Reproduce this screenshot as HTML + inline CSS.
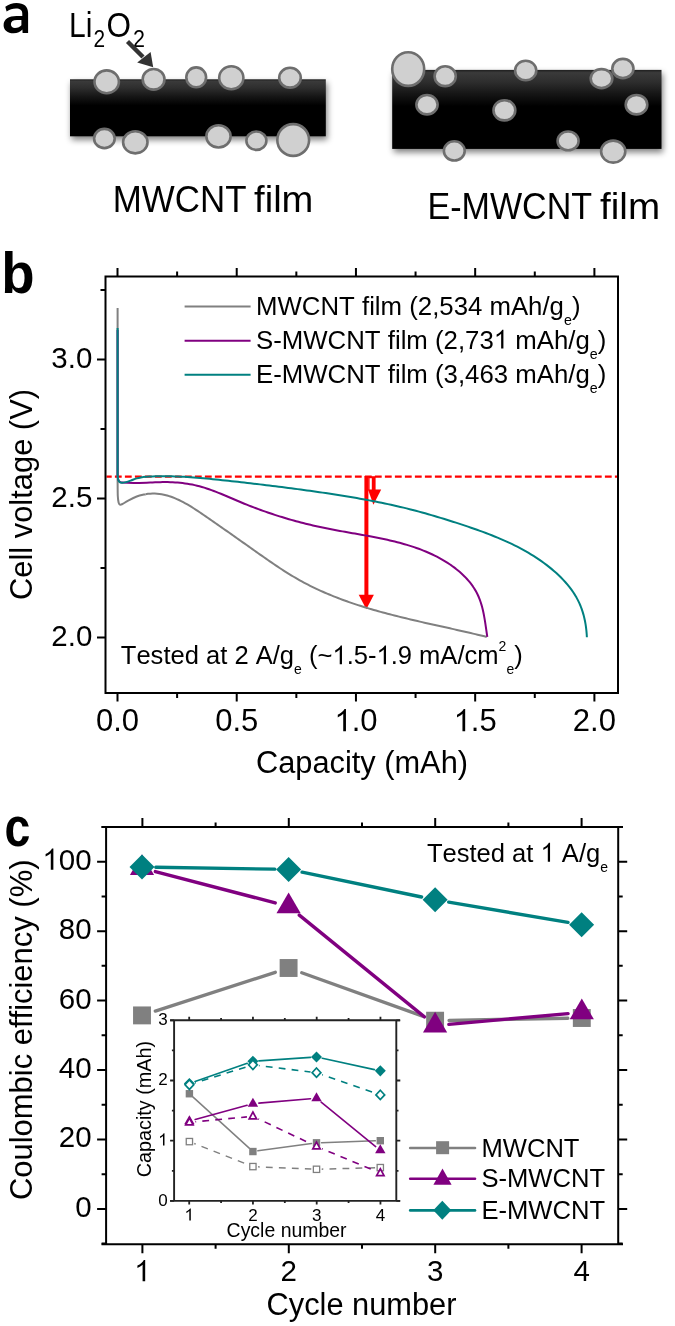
<!DOCTYPE html>
<html><head><meta charset="utf-8"><title>Figure</title>
<style>
html,body{margin:0;padding:0;background:#fff;}
svg{display:block;will-change:transform;}
text{font-family:"Liberation Sans", sans-serif;font-kerning:none;}
</style></head><body>
<svg width="675" height="1326" viewBox="0 0 675 1326">
<defs>
<linearGradient id="g1" x1="0" y1="0" x2="0" y2="1">
<stop offset="0" stop-color="#1e1e1e"/><stop offset="0.035" stop-color="#3a3a3a"/><stop offset="0.15" stop-color="#2e2e2e"/><stop offset="0.3" stop-color="#161616"/><stop offset="0.46" stop-color="#000"/><stop offset="1" stop-color="#000"/>
</linearGradient>
<linearGradient id="g2" x1="0" y1="0" x2="0" y2="1">
<stop offset="0" stop-color="#1e1e1e"/><stop offset="0.035" stop-color="#3a3a3a"/><stop offset="0.15" stop-color="#2e2e2e"/><stop offset="0.3" stop-color="#161616"/><stop offset="0.46" stop-color="#000"/><stop offset="1" stop-color="#000"/>
</linearGradient>
<filter id="blur" x="-20%" y="-20%" width="140%" height="140%"><feGaussianBlur stdDeviation="3"/></filter>
</defs>
<rect width="675" height="1326" fill="#fff"/>
<path fill-rule="evenodd" fill="#000" d="M5.3 6.8C8.5 4.4 12.5 3 16.5 3C24 3 28.1 6.5 28.1 13L28.1 32.9L22.6 32.9L22.4 29.6C20.5 31.8 17.5 33.3 13.5 33.3C7.5 33.3 3.6 30 3.6 25.2C3.6 19 9 16 16.5 16L22.3 16L22.3 13.8C22.3 10.2 20 8.6 16 8.6C12.5 8.6 9.5 9.6 6.6 11.6ZM21.4 20L17 20C13 20 10.9 21.5 10.9 24.2C10.9 26.6 12.6 28 15 28C17.8 28 20.2 26.8 21.4 25.2Z"/>
<text transform="translate(69.03,37) scale(0.8736,1)" font-size="34.4">Li</text>
<text transform="translate(93.45,46.8) scale(0.8874,1)" font-size="23.5">2</text>
<text transform="translate(106.41,37.2) scale(0.9103,1)" font-size="34.6">O</text>
<text transform="translate(132.92,46.8) scale(0.9154,1)" font-size="23.5">2</text>
<line x1="127.5" y1="41.5" x2="143" y2="57" stroke="#333" stroke-width="4.4"/>
<polygon points="137.2,62.4 150.6,52 153.2,67.2" fill="#333"/>
<rect x="71.5" y="82.8" width="255.8" height="57" fill="#000" opacity="0.5" filter="url(#blur)"/>
<rect x="70" y="79.3" width="255.8" height="57" fill="url(#g1)"/>
<ellipse cx="106.7" cy="81.8" rx="12.2" ry="11.4" fill="#d0d0d0" stroke="#6e6e6e" stroke-width="2.6"/>
<ellipse cx="153.6" cy="79.3" rx="10.9" ry="10.3" fill="#d0d0d0" stroke="#6e6e6e" stroke-width="2.6"/>
<ellipse cx="196.2" cy="77.3" rx="9.9" ry="9.9" fill="#d0d0d0" stroke="#6e6e6e" stroke-width="2.6"/>
<ellipse cx="231.3" cy="77.7" rx="12.1" ry="11.5" fill="#d0d0d0" stroke="#6e6e6e" stroke-width="2.6"/>
<ellipse cx="290" cy="77.7" rx="10.8" ry="9.9" fill="#d0d0d0" stroke="#6e6e6e" stroke-width="2.6"/>
<ellipse cx="104.4" cy="138.5" rx="10.3" ry="9.6" fill="#d0d0d0" stroke="#6e6e6e" stroke-width="2.6"/>
<ellipse cx="135.3" cy="142.3" rx="12.2" ry="11.1" fill="#d0d0d0" stroke="#6e6e6e" stroke-width="2.6"/>
<ellipse cx="218.5" cy="136.4" rx="12.1" ry="11.1" fill="#d0d0d0" stroke="#6e6e6e" stroke-width="2.6"/>
<ellipse cx="256.4" cy="140.7" rx="10" ry="9.2" fill="#d0d0d0" stroke="#6e6e6e" stroke-width="2.6"/>
<ellipse cx="293.2" cy="140" rx="15.9" ry="15.9" fill="#d0d0d0" stroke="#6e6e6e" stroke-width="2.6"/>
<rect x="393.7" y="73.4" width="269.3" height="79" fill="#000" opacity="0.5" filter="url(#blur)"/>
<rect x="392.2" y="69.9" width="269.3" height="79" fill="url(#g2)"/>
<ellipse cx="408.2" cy="69.1" rx="16" ry="16.8" fill="#d0d0d0" stroke="#6e6e6e" stroke-width="2.6"/>
<ellipse cx="445.2" cy="76.2" rx="10.6" ry="9.9" fill="#d0d0d0" stroke="#6e6e6e" stroke-width="2.6"/>
<ellipse cx="427" cy="104.7" rx="10.6" ry="9.7" fill="#d0d0d0" stroke="#6e6e6e" stroke-width="2.6"/>
<ellipse cx="504.4" cy="110.3" rx="10.9" ry="10.1" fill="#d0d0d0" stroke="#6e6e6e" stroke-width="2.6"/>
<ellipse cx="454.3" cy="150.9" rx="10.4" ry="9.6" fill="#d0d0d0" stroke="#6e6e6e" stroke-width="2.6"/>
<ellipse cx="525.7" cy="70.5" rx="10.6" ry="9.7" fill="#d0d0d0" stroke="#6e6e6e" stroke-width="2.6"/>
<ellipse cx="601.5" cy="78.6" rx="10.8" ry="9.5" fill="#d0d0d0" stroke="#6e6e6e" stroke-width="2.6"/>
<ellipse cx="622.9" cy="68.5" rx="10.6" ry="9.6" fill="#d0d0d0" stroke="#6e6e6e" stroke-width="2.6"/>
<ellipse cx="636.5" cy="104.7" rx="10.8" ry="9.7" fill="#d0d0d0" stroke="#6e6e6e" stroke-width="2.6"/>
<ellipse cx="568.1" cy="140.9" rx="10.5" ry="9.4" fill="#d0d0d0" stroke="#6e6e6e" stroke-width="2.6"/>
<ellipse cx="613.2" cy="151.6" rx="12.1" ry="11" fill="#d0d0d0" stroke="#6e6e6e" stroke-width="2.6"/>
<text transform="translate(112.74,211.9) scale(0.9643,1)" font-size="36.2">MWCNT</text>
<text transform="translate(254.06,211.9) scale(1.0543,1)" font-size="36.2">film</text>
<text transform="translate(427.5,219.4) scale(0.9414,1)" font-size="36.2">E-MWCNT</text>
<text transform="translate(600.05,219.4) scale(1.0674,1)" font-size="36.2">film</text>
<text transform="translate(1.2,293.4) scale(0.95,1)" font-size="57.5" font-weight="bold">b</text>
<path d="M117.5 693V701.5 M117.5 276.5V268 M177.11 693V698 M177.11 276.5V271.5 M236.72 693V701.5 M236.72 276.5V268 M296.34 693V698 M296.34 276.5V271.5 M355.95 693V701.5 M355.95 276.5V268 M415.56 693V698 M415.56 276.5V271.5 M475.17 693V701.5 M475.17 276.5V268 M534.79 693V698 M534.79 276.5V271.5 M594.4 693V701.5 M594.4 276.5V268 M105.5 637.5H97 M105.5 568H100.5 M105.5 498.5H97 M105.5 429H100.5 M105.5 359.5H97 M105.5 290H100.5" stroke="#000" stroke-width="2" fill="none"/>
<line x1="106.5" y1="476.6" x2="617" y2="476.6" stroke="#ff0000" stroke-width="2.4" stroke-dasharray="6.8 3.2" stroke-dashoffset="1.6"/>
<rect x="364.4" y="476" width="4" height="120" fill="#ff0000"/>
<polygon points="358.7,594.8 373.9,594.8 366.3,609.3" fill="#ff0000"/>
<path d="M368.2 476.2H375.6V490.5H368.2Z" fill="#ff0000"/>
<rect x="369.6" y="478.2" width="2.2" height="12" fill="#fff"/>
<polygon points="368,489.6 381.2,489.6 373.4,504.8" fill="#ff0000"/>
<path d="M117.6 308L117.6 480" fill="none" stroke="#808080" stroke-width="2"/>
<path d="M117.6 480 C117.63 482.67 117.63 492.25 117.8 496 C117.97 499.75 118.27 501.07 118.6 502.5 C118.93 503.93 119.15 504.35 119.8 504.6 C120.45 504.85 121.17 504.63 122.5 504 C123.83 503.37 125.43 502.05 127.8 500.8 C130.17 499.55 133.73 497.6 136.7 496.5 C139.67 495.4 144.12 494.58 145.6 494.2" fill="none" stroke="#808080" stroke-width="2" stroke-linejoin="round"/>
<polyline points="145.62,494.19 147.95,493.85 150.26,493.64 152.56,493.54 154.84,493.56 157.1,493.69 159.35,493.93 161.59,494.26 163.81,494.7 166.01,495.22 168.21,495.83 170.39,496.52 172.55,497.29 174.7,498.13 176.85,499.05 178.97,500.02 181.09,501.05 183.2,502.14 185.29,503.28 187.38,504.46 189.45,505.69 191.51,506.95 193.57,508.24 195.61,509.55 197.65,510.89 199.67,512.25 201.69,513.62 203.7,514.99 205.71,516.37 207.7,517.75 209.69,519.13 211.67,520.5 213.65,521.87 215.62,523.24 217.59,524.61 219.55,525.98 221.5,527.34 223.45,528.71 225.4,530.07 227.34,531.43 229.28,532.79 231.22,534.15 233.15,535.51 235.08,536.87 237.01,538.23 238.94,539.59 240.87,540.95 242.79,542.31 244.72,543.67 246.64,545.03 248.56,546.39 250.49,547.75 252.41,549.11 254.34,550.48 256.27,551.84 258.2,553.2 260.13,554.57 262.06,555.93 264,557.29 265.94,558.65 267.88,560 269.83,561.35 271.78,562.69 273.74,564.02 275.7,565.34 277.67,566.66 279.64,567.97 281.62,569.26 283.6,570.54 285.59,571.81 287.59,573.07 289.6,574.31 291.61,575.54 293.63,576.75 295.66,577.94 297.7,579.12 299.74,580.28 301.8,581.41 303.86,582.53 305.94,583.63 308.02,584.71 310.11,585.77 312.21,586.81 314.32,587.84 316.43,588.85 318.56,589.84 320.69,590.81 322.83,591.77 324.98,592.71 327.13,593.63 329.29,594.54 331.46,595.44 333.64,596.32 335.82,597.18 338.01,598.03 340.2,598.87 342.4,599.69 344.61,600.5 346.82,601.3 349.04,602.08 351.26,602.85 353.49,603.61 355.73,604.35 357.97,605.09 360.21,605.81 362.46,606.52 364.72,607.22 366.98,607.91 369.24,608.59 371.51,609.26 373.78,609.92 376.06,610.57 378.33,611.22 380.62,611.85 382.9,612.48 385.19,613.09 387.48,613.7 389.78,614.3 392.08,614.9 394.38,615.49 396.68,616.07 398.98,616.65 401.29,617.22 403.6,617.78 405.91,618.34 408.22,618.89 410.54,619.44 412.85,619.99 415.17,620.53 417.49,621.06 419.81,621.6 422.12,622.13 424.44,622.65 426.76,623.18 429.08,623.7 431.4,624.22 433.73,624.74 436.05,625.26 438.36,625.77 440.68,626.29 443,626.8 445.32,627.32 447.64,627.83 449.95,628.35 452.26,628.86 454.58,629.38 456.89,629.9 459.2,630.42 461.5,630.94 463.81,631.47 466.11,632 468.41,632.53 470.71,633.06 473,633.6 475.29,634.14 477.58,634.68 479.87,635.23 482.15,635.78 484.43,636.34 486.7,636.91" fill="none" stroke="#808080" stroke-width="2" stroke-linejoin="round"/>
<path d="M117.6 330L117.6 476" fill="none" stroke="#800080" stroke-width="2"/>
<path d="M117.6 476 C117.7 476.58 117.88 478.58 118.2 479.5 C118.52 480.42 118.87 481.02 119.5 481.5 C120.13 481.98 119.63 482.17 122 482.4 C124.37 482.63 129.03 482.87 133.7 482.9 C138.37 482.93 147.28 482.65 150 482.6" fill="none" stroke="#800080" stroke-width="2" stroke-linejoin="round"/>
<polyline points="150,482.6 152.56,482.45 155.11,482.32 157.64,482.22 160.17,482.15 162.69,482.11 165.2,482.1 167.7,482.12 170.19,482.18 172.67,482.28 175.14,482.42 177.61,482.6 180.07,482.82 182.52,483.08 184.96,483.39 187.4,483.74 189.82,484.15 192.25,484.6 194.66,485.11 197.07,485.66 199.48,486.28 201.87,486.94 204.27,487.66 206.66,488.43 209.04,489.24 211.42,490.09 213.79,490.97 216.16,491.88 218.53,492.82 220.89,493.78 223.25,494.76 225.6,495.75 227.96,496.75 230.31,497.76 232.66,498.77 235,499.77 237.35,500.77 239.69,501.76 242.03,502.74 244.37,503.7 246.71,504.64 249.05,505.57 251.38,506.48 253.72,507.38 256.06,508.27 258.4,509.14 260.74,509.99 263.08,510.83 265.42,511.66 267.76,512.47 270.1,513.27 272.45,514.06 274.8,514.83 277.15,515.59 279.5,516.33 281.86,517.06 284.22,517.78 286.58,518.49 288.94,519.18 291.31,519.86 293.69,520.52 296.06,521.18 298.45,521.82 300.83,522.44 303.23,523.06 305.62,523.66 308.03,524.26 310.44,524.84 312.85,525.41 315.27,525.96 317.7,526.51 320.14,527.04 322.58,527.56 325.03,528.07 327.49,528.57 329.95,529.06 332.42,529.54 334.9,530.01 337.39,530.48 339.88,530.93 342.37,531.38 344.87,531.83 347.37,532.27 349.88,532.71 352.39,533.15 354.9,533.59 357.41,534.04 359.92,534.48 362.43,534.93 364.94,535.38 367.45,535.84 369.96,536.3 372.46,536.78 374.96,537.26 377.46,537.75 379.95,538.26 382.44,538.77 384.92,539.31 387.4,539.85 389.87,540.41 392.33,540.99 394.79,541.59 397.23,542.2 399.67,542.84 402.1,543.5 404.51,544.18 406.92,544.88 409.31,545.61 411.69,546.37 414.06,547.15 416.41,547.96 418.75,548.8 421.08,549.67 423.39,550.57 425.68,551.51 427.96,552.48 430.22,553.48 432.46,554.52 434.68,555.6 436.89,556.71 439.07,557.87 441.24,559.06 443.38,560.3 445.5,561.58 447.6,562.91 449.68,564.28 451.73,565.69 453.75,567.15 455.74,568.66 457.69,570.22 459.6,571.82 461.46,573.47 463.28,575.18 465.04,576.93 466.75,578.73 468.39,580.58 469.97,582.48 471.47,584.44 472.91,586.44 474.27,588.5 475.54,590.61 476.74,592.77 477.84,594.99 478.85,597.27 479.77,599.59 480.6,601.96 481.36,604.37 482.05,606.81 482.68,609.28 483.24,611.78 483.76,614.29 484.24,616.82 484.68,619.35 485.09,621.88 485.47,624.41 485.84,626.93 486.21,629.44 486.56,631.92 486.92,634.38 487.3,636.8" fill="none" stroke="#800080" stroke-width="2" stroke-linejoin="round"/>
<path d="M117.6 328L117.6 474" fill="none" stroke="#008080" stroke-width="2"/>
<path d="M117.6 474 C117.68 474.83 117.82 477.7 118.1 479 C118.38 480.3 118.67 481.17 119.3 481.8 C119.93 482.43 120.78 482.75 121.9 482.8 C123.02 482.85 124.53 482.47 126 482.1 C127.47 481.73 128.92 481.22 130.7 480.6 C132.48 479.98 134.65 479 136.7 478.4 C138.75 477.8 141.95 477.23 143 477" fill="none" stroke="#008080" stroke-width="2" stroke-linejoin="round"/>
<polyline points="143,477 146.18,476.77 149.36,476.59 152.55,476.45 155.73,476.34 158.9,476.28 162.08,476.24 165.26,476.25 168.43,476.28 171.6,476.34 174.77,476.43 177.95,476.55 181.11,476.7 184.28,476.86 187.45,477.05 190.61,477.27 193.78,477.5 196.94,477.74 200.1,478.01 203.26,478.28 206.42,478.57 209.58,478.87 212.73,479.18 215.89,479.5 219.04,479.83 222.19,480.16 225.34,480.49 228.5,480.83 231.64,481.17 234.79,481.51 237.94,481.86 241.09,482.21 244.23,482.56 247.37,482.92 250.52,483.28 253.66,483.64 256.8,484.01 259.94,484.38 263.08,484.76 266.21,485.14 269.35,485.52 272.49,485.9 275.62,486.29 278.75,486.69 281.89,487.08 285.02,487.48 288.15,487.89 291.28,488.3 294.41,488.71 297.54,489.12 300.66,489.54 303.79,489.97 306.91,490.39 310.04,490.83 313.16,491.27 316.29,491.71 319.41,492.16 322.53,492.62 325.65,493.08 328.77,493.55 331.89,494.02 335.01,494.51 338.13,495 341.24,495.49 344.36,496 347.47,496.51 350.59,497.04 353.7,497.57 356.82,498.11 359.93,498.66 363.04,499.22 366.15,499.79 369.26,500.37 372.37,500.96 375.48,501.57 378.59,502.18 381.7,502.81 384.81,503.46 387.92,504.12 391.02,504.79 394.13,505.48 397.24,506.19 400.34,506.91 403.45,507.65 406.55,508.4 409.66,509.18 412.76,509.97 415.86,510.79 418.97,511.62 422.07,512.47 425.16,513.33 428.26,514.21 431.35,515.11 434.44,516.01 437.52,516.93 440.6,517.87 443.68,518.81 446.74,519.76 449.8,520.72 452.86,521.69 455.91,522.67 458.95,523.65 461.98,524.64 465,525.65 468.01,526.66 471.02,527.68 474.01,528.72 476.99,529.78 479.96,530.84 482.92,531.93 485.86,533.03 488.8,534.15 491.71,535.29 494.62,536.46 497.51,537.64 500.38,538.85 503.24,540.08 506.09,541.35 508.91,542.64 511.72,543.96 514.52,545.32 517.29,546.71 520.05,548.14 522.78,549.61 525.5,551.12 528.2,552.67 530.87,554.27 533.53,555.91 536.16,557.6 538.77,559.35 541.36,561.14 543.92,562.99 546.46,564.9 548.98,566.86 551.47,568.88 553.92,570.96 556.33,573.1 558.7,575.3 561.01,577.55 563.25,579.87 565.42,582.23 567.51,584.66 569.52,587.14 571.43,589.67 573.24,592.26 574.95,594.9 576.53,597.6 578,600.35 579.34,603.15 580.56,606 581.66,608.91 582.65,611.86 583.53,614.87 584.31,617.93 584.98,621.04 585.55,624.19 586.02,627.4 586.4,630.65 586.69,633.96 586.89,637.31" fill="none" stroke="#008080" stroke-width="2" stroke-linejoin="round"/>
<rect x="105.5" y="276.5" width="512.5" height="416.5" fill="none" stroke="#000" stroke-width="2"/>
<g transform="translate(51.29,367.5) scale(1.0000,1)" fill="#000"><text x="0" y="0" font-size="29.5">3.0</text></g>
<g transform="translate(51.29,506.5) scale(1.0000,1)" fill="#000"><text x="0" y="0" font-size="29.5">2.5</text></g>
<g transform="translate(51.29,645.5) scale(1.0000,1)" fill="#000"><text x="0" y="0" font-size="29.5">2.0</text></g>
<g transform="translate(95.95,731.2) scale(1.0000,1)" fill="#000"><text x="0" y="0" font-size="31">0.0</text></g>
<g transform="translate(215.18,731.2) scale(1.0000,1)" fill="#000"><text x="0" y="0" font-size="31">0.5</text></g>
<g transform="translate(334.4,731.2) scale(1.0000,1)" fill="#000"><path d="M763 0H583V1147C530 1096 466 1046 390 1000C314 954 255 925 223 912V1086C328 1135 420 1195 500 1266C580 1337 636 1404 668 1466H763Z" transform="translate(0,0) scale(0.015137,-0.015137)"/><text x="17.24" y="0" font-size="31">.0</text></g>
<g transform="translate(453.63,731.2) scale(1.0000,1)" fill="#000"><path d="M763 0H583V1147C530 1096 466 1046 390 1000C314 954 255 925 223 912V1086C328 1135 420 1195 500 1266C580 1337 636 1404 668 1466H763Z" transform="translate(0,0) scale(0.015137,-0.015137)"/><text x="17.24" y="0" font-size="31">.5</text></g>
<g transform="translate(572.85,731.2) scale(1.0000,1)" fill="#000"><text x="0" y="0" font-size="31">2.0</text></g>
<text transform="translate(32.3,494.5) rotate(-90)" font-size="30.6" text-anchor="middle" textLength="211" lengthAdjust="spacingAndGlyphs">Cell voltage (V)</text>
<text x="362" y="772.7" font-size="30.6" text-anchor="middle" font-weight="normal" textLength="212" lengthAdjust="spacingAndGlyphs">Capacity (mAh)</text>
<line x1="184.6" y1="306.6" x2="250.6" y2="306.6" stroke="#808080" stroke-width="2"/>
<line x1="184.6" y1="340.8" x2="250.6" y2="340.8" stroke="#800080" stroke-width="2"/>
<line x1="184.6" y1="374.7" x2="250.6" y2="374.7" stroke="#008080" stroke-width="2"/>
<g transform="translate(256.05,314.9) scale(0.9840,1)" fill="#000"><text x="0" y="0" font-size="26.2">MWCNT film (2,534 mAh/g</text><text x="312.99" y="10" font-size="14.5">e</text><text x="321.06" y="0" font-size="26.2">)</text></g>
<g transform="translate(256.05,348.5) scale(0.9840,1)" fill="#000"><text x="0" y="0" font-size="26.2">S-MWCNT film (2,73</text><path d="M763 0H583V1147C530 1096 466 1046 390 1000C314 954 255 925 223 912V1086C328 1135 420 1195 500 1266C580 1337 636 1404 668 1466H763Z" transform="translate(241.62,0) scale(0.012793,-0.012793)"/><text x="263.47" y="0" font-size="26.2">mAh/g</text><text x="339.19" y="10" font-size="14.5">e</text><text x="347.26" y="0" font-size="26.2">)</text></g>
<g transform="translate(256.05,382.9) scale(0.9840,1)" fill="#000"><text x="0" y="0" font-size="26.2">E-MWCNT film (3,463 mAh/g</text><text x="339.19" y="10" font-size="14.5">e</text><text x="347.26" y="0" font-size="26.2">)</text></g>
<g transform="translate(120.8,664.3) scale(0.9680,1)" fill="#000"><text x="0" y="0" font-size="26.4">Tested at 2 A/g</text><text x="179.04" y="10" font-size="14.5">e</text><text x="194.44" y="0" font-size="26.4">(~</text><path d="M763 0H583V1147C530 1096 466 1046 390 1000C314 954 255 925 223 912V1086C328 1135 420 1195 500 1266C580 1337 636 1404 668 1466H763Z" transform="translate(218.65,0) scale(0.012891,-0.012891)"/><text x="233.33" y="0" font-size="26.4">.5-</text><path d="M763 0H583V1147C530 1096 466 1046 390 1000C314 954 255 925 223 912V1086C328 1135 420 1195 500 1266C580 1337 636 1404 668 1466H763Z" transform="translate(264.14,0) scale(0.012891,-0.012891)"/><text x="278.82" y="0" font-size="26.4">.9 mA/cm</text><text x="390.3" y="-13.6" font-size="14.5">2</text><text x="398.36" y="10" font-size="14.5">e</text><text x="406.43" y="0" font-size="26.4">)</text></g>
<text transform="translate(4.6,846.3) scale(0.83,1)" font-size="56" font-weight="bold">c</text>
<path d="M142.4 1244.3V1253.3 M142.4 827V818 M215.6 1244.3V1248.8 M215.6 827V822.5 M288.8 1244.3V1253.3 M288.8 827V818 M362 1244.3V1248.8 M362 827V822.5 M435.2 1244.3V1253.3 M435.2 827V818 M508.4 1244.3V1248.8 M508.4 827V822.5 M581.6 1244.3V1253.3 M581.6 827V818 M106.1 1243.62H101.6 M618.2 1243.62H622.7 M106.1 1208.9H97.1 M618.2 1208.9H627.2 M106.1 1174.18H101.6 M618.2 1174.18H622.7 M106.1 1139.46H97.1 M618.2 1139.46H627.2 M106.1 1104.74H101.6 M618.2 1104.74H622.7 M106.1 1070.02H97.1 M618.2 1070.02H627.2 M106.1 1035.3H101.6 M618.2 1035.3H622.7 M106.1 1000.58H97.1 M618.2 1000.58H627.2 M106.1 965.86H101.6 M618.2 965.86H622.7 M106.1 931.14H97.1 M618.2 931.14H627.2 M106.1 896.42H101.6 M618.2 896.42H622.7 M106.1 861.7H97.1 M618.2 861.7H627.2 M106.1 826.98H101.6 M618.2 826.98H622.7" stroke="#000" stroke-width="2" fill="none"/>
<path d="M155.32 1011.09L275.28 972.31 M301.77 972.74L421.93 1015.96 M449.1 1020.44L567.8 1018.26" stroke="#808080" stroke-width="3.4" fill="none" stroke-linecap="round"/>
<rect x="133.05" y="1006.45" width="17.9" height="17.9" fill="#808080"/>
<rect x="279.65" y="959.05" width="17.9" height="17.9" fill="#808080"/>
<rect x="426.15" y="1011.75" width="17.9" height="17.9" fill="#808080"/>
<rect x="572.85" y="1009.05" width="17.9" height="17.9" fill="#808080"/>
<path d="M155.35 871.59L275.25 902.91 M299.3 915.11L424.4 1016.89 M448.84 1024.36L568.06 1013.64" stroke="#800080" stroke-width="3.4" fill="none" stroke-linecap="round"/>
<polygon points="142,854.23 154.1,875.03 129.9,875.03" fill="#800080"/>
<polygon points="288.6,892.53 300.7,913.33 276.5,913.33" fill="#800080"/>
<polygon points="435.1,1011.73 447.2,1032.53 423,1032.53" fill="#800080"/>
<polygon points="581.8,998.53 593.9,1019.33 569.7,1019.33" fill="#800080"/>
<path d="M155.8 867.23L274.8 869.17 M302.11 872.2L421.59 897 M448.7 902.11L568 922.39" stroke="#008080" stroke-width="3.4" fill="none" stroke-linecap="round"/>
<polygon points="142,854.5 154.5,867 142,879.5 129.5,867" fill="#008080"/>
<polygon points="288.6,856.9 301.1,869.4 288.6,881.9 276.1,869.4" fill="#008080"/>
<polygon points="435.1,887.3 447.6,899.8 435.1,912.3 422.6,899.8" fill="#008080"/>
<polygon points="581.6,912.2 594.1,924.7 581.6,937.2 569.1,924.7" fill="#008080"/>
<path d="M101.5 827H623 M101.5 1244.3H623 M106.1 827V1244.3 M618.2 827V1244.3" stroke="#000" stroke-width="2" fill="none"/>
<g transform="translate(42.38,869.7) scale(1.0000,1)" fill="#000"><path d="M763 0H583V1147C530 1096 466 1046 390 1000C314 954 255 925 223 912V1086C328 1135 420 1195 500 1266C580 1337 636 1404 668 1466H763Z" transform="translate(0,0) scale(0.014404,-0.014404)"/><text x="16.41" y="0" font-size="29.5">00</text></g>
<g transform="translate(58.79,939.14) scale(1.0000,1)" fill="#000"><text x="0" y="0" font-size="29.5">80</text></g>
<g transform="translate(58.79,1008.58) scale(1.0000,1)" fill="#000"><text x="0" y="0" font-size="29.5">60</text></g>
<g transform="translate(58.79,1078.02) scale(1.0000,1)" fill="#000"><text x="0" y="0" font-size="29.5">40</text></g>
<g transform="translate(58.79,1147.46) scale(1.0000,1)" fill="#000"><text x="0" y="0" font-size="29.5">20</text></g>
<g transform="translate(75.19,1216.9) scale(1.0000,1)" fill="#000"><text x="0" y="0" font-size="29.5">0</text></g>
<g transform="translate(134.2,1281.2) scale(1.0000,1)" fill="#000"><path d="M763 0H583V1147C530 1096 466 1046 390 1000C314 954 255 925 223 912V1086C328 1135 420 1195 500 1266C580 1337 636 1404 668 1466H763Z" transform="translate(0,0) scale(0.014404,-0.014404)"/></g>
<g transform="translate(280.6,1281.2) scale(1.0000,1)" fill="#000"><text x="0" y="0" font-size="29.5">2</text></g>
<g transform="translate(427,1281.2) scale(1.0000,1)" fill="#000"><text x="0" y="0" font-size="29.5">3</text></g>
<g transform="translate(573.4,1281.2) scale(1.0000,1)" fill="#000"><text x="0" y="0" font-size="29.5">4</text></g>
<text transform="translate(32.3,1029.8) rotate(-90)" font-size="30.6" text-anchor="middle" textLength="340.5" lengthAdjust="spacingAndGlyphs">Coulombic efficiency (%)</text>
<text x="361.5" y="1315.4" font-size="30.6" text-anchor="middle" font-weight="normal" textLength="190" lengthAdjust="spacingAndGlyphs">Cycle number</text>
<g transform="translate(426.9,861.7) scale(0.9680,1)" fill="#000"><text x="0" y="0" font-size="26.4">Tested at</text><path d="M763 0H583V1147C530 1096 466 1046 390 1000C314 954 255 925 223 912V1086C328 1135 420 1195 500 1266C580 1337 636 1404 668 1466H763Z" transform="translate(117.39,0) scale(0.012891,-0.012891)"/><text x="139.41" y="0" font-size="26.4">A/g</text><text x="179.04" y="9.8" font-size="14.5">e</text></g>
<line x1="410.2" y1="1148" x2="475" y2="1148" stroke="#808080" stroke-width="2.6" stroke-linecap="round"/>
<line x1="410.2" y1="1178.8" x2="475" y2="1178.8" stroke="#800080" stroke-width="2.6" stroke-linecap="round"/>
<line x1="410.2" y1="1210.4" x2="475" y2="1210.4" stroke="#008080" stroke-width="2.6" stroke-linecap="round"/>
<rect x="436.1" y="1141.2" width="13" height="13" fill="#808080"/>
<polygon points="442.5,1168.53 451.6,1184.83 433.4,1184.83" fill="#800080"/>
<polygon points="442.3,1200.7 451.3,1210.2 442.3,1219.7 433.3,1210.2" fill="#008080"/>
<g transform="translate(481.4,1156.5) scale(0.9700,1)" fill="#000"><text x="0" y="0" font-size="26.4">MWCNT</text></g>
<g transform="translate(481.4,1187.4) scale(0.9700,1)" fill="#000"><text x="0" y="0" font-size="26.4">S-MWCNT</text></g>
<g transform="translate(481.4,1218.9) scale(0.9700,1)" fill="#000"><text x="0" y="0" font-size="26.4">E-MWCNT</text></g>
<rect x="174.1" y="1020.3" width="222.2" height="180.6" fill="#fff"/>
<path d="M189.2 1200.9V1204.4 M189.2 1020.3V1016.8 M221.07 1200.9V1203.1 M221.07 1020.3V1018.1 M252.95 1200.9V1204.4 M252.95 1020.3V1016.8 M284.82 1200.9V1203.1 M284.82 1020.3V1018.1 M316.7 1200.9V1204.4 M316.7 1020.3V1016.8 M348.57 1200.9V1203.1 M348.57 1020.3V1018.1 M380.45 1200.9V1204.4 M380.45 1020.3V1016.8 M174.1 1200.9H170.1 M396.3 1200.9H400.3 M174.1 1170.8H171.9 M396.3 1170.8H398.5 M174.1 1140.7H170.1 M396.3 1140.7H400.3 M174.1 1110.6H171.9 M396.3 1110.6H398.5 M174.1 1080.5H170.1 M396.3 1080.5H400.3 M174.1 1050.4H171.9 M396.3 1050.4H398.5 M174.1 1020.3H170.1 M396.3 1020.3H400.3" stroke="#222" stroke-width="1.8" fill="none"/>
<path d="M194.24 1143.51L248.06 1164.68 M258.1 1166.81L311.3 1169.07 M321.7 1169.16L375.1 1167.75" stroke="#808080" stroke-width="1.5" fill="none" stroke-dasharray="6.8 6.2" stroke-dashoffset="5.2" stroke-linecap="butt"/>
<path d="M193.1 1097.11L249.2 1148.17 M257.85 1150.86L311.55 1143.49 M321.5 1142.64L375.3 1140.87" stroke="#808080" stroke-width="1.5" fill="none" stroke-linecap="round"/>
<rect x="185.7" y="1090.04" width="7.4" height="7.4" fill="#808080"/>
<rect x="249.2" y="1147.84" width="7.4" height="7.4" fill="#808080"/>
<rect x="312.8" y="1139.11" width="7.4" height="7.4" fill="#808080"/>
<rect x="376.6" y="1137" width="7.4" height="7.4" fill="#808080"/>
<rect x="186.25" y="1138.45" width="6.3" height="6.3" fill="#fff" stroke="#808080" stroke-width="1.3"/>
<rect x="249.75" y="1163.44" width="6.3" height="6.3" fill="#fff" stroke="#808080" stroke-width="1.3"/>
<rect x="313.35" y="1166.15" width="6.3" height="6.3" fill="#fff" stroke="#808080" stroke-width="1.3"/>
<rect x="377.15" y="1164.46" width="6.3" height="6.3" fill="#fff" stroke="#808080" stroke-width="1.3"/>
<path d="M195.37 1121.77L246.93 1116.89 M258.32 1118.89L311.08 1143.85 M322.04 1148.73L374.76 1170.77" stroke="#800080" stroke-width="1.6" fill="none" stroke-dasharray="6.8 6.2" stroke-dashoffset="6" stroke-linecap="butt"/>
<path d="M195.19 1119.54L247.11 1105.27 M258.88 1103.17L310.52 1098.77 M321.15 1102.05L375.65 1146.54" stroke="#800080" stroke-width="1.6" fill="none" stroke-linecap="round"/>
<polygon points="189.4,1115.13 194.6,1124.13 184.2,1124.13" fill="#800080"/>
<polygon points="252.9,1097.68 258.1,1106.68 247.7,1106.68" fill="#800080"/>
<polygon points="316.5,1092.26 321.7,1101.26 311.3,1101.26" fill="#800080"/>
<polygon points="380.3,1144.33 385.5,1153.33 375.1,1153.33" fill="#800080"/>
<polygon points="189.4,1117.99 193.11,1124.82 185.69,1124.82" fill="#fff" stroke="#800080" stroke-width="1.7" stroke-linejoin="miter"/>
<polygon points="252.9,1111.97 256.61,1118.8 249.19,1118.8" fill="#fff" stroke="#800080" stroke-width="1.7" stroke-linejoin="miter"/>
<polygon points="316.5,1142.07 320.21,1148.9 312.79,1148.9" fill="#fff" stroke="#800080" stroke-width="1.7" stroke-linejoin="miter"/>
<polygon points="380.3,1168.74 384.01,1175.57 376.59,1175.57" fill="#fff" stroke="#800080" stroke-width="1.7" stroke-linejoin="miter"/>
<path d="M195.13 1082.92L247.17 1066.64 M258.86 1065.58L310.54 1071.94 M322.16 1074.65L374.64 1092.97" stroke="#008080" stroke-width="1.6" fill="none" stroke-dasharray="6.8 6.2" stroke-dashoffset="6" stroke-linecap="butt"/>
<path d="M195.06 1081.52L247.24 1063.22 M258.89 1060.84L310.51 1057.42 M322.36 1058.29L374.44 1069.6" stroke="#008080" stroke-width="1.6" fill="none" stroke-linecap="round"/>
<polygon points="189.4,1077.91 194.9,1083.51 189.4,1089.11 183.9,1083.51" fill="#008080"/>
<polygon points="252.9,1055.64 258.4,1061.24 252.9,1066.84 247.4,1061.24" fill="#008080"/>
<polygon points="316.5,1051.42 322,1057.02 316.5,1062.62 311,1057.02" fill="#008080"/>
<polygon points="380.3,1065.27 385.8,1070.87 380.3,1076.47 374.8,1070.87" fill="#008080"/>
<polygon points="189.4,1080.04 193.78,1084.71 189.4,1089.39 185.02,1084.71" fill="#fff" stroke="#008080" stroke-width="1.7"/>
<polygon points="252.9,1060.17 257.28,1064.85 252.9,1069.52 248.52,1064.85" fill="#fff" stroke="#008080" stroke-width="1.7"/>
<polygon points="316.5,1068 320.88,1072.67 316.5,1077.35 312.12,1072.67" fill="#fff" stroke="#008080" stroke-width="1.7"/>
<polygon points="380.3,1090.27 384.68,1094.95 380.3,1099.62 375.92,1094.95" fill="#fff" stroke="#008080" stroke-width="1.7"/>
<path d="M170.1 1020.3H400 M170.1 1200.9H400 M174.1 1020.3V1200.9 M396.3 1020.3V1200.9" stroke="#222" stroke-width="1.9" fill="none"/>
<g transform="translate(158.15,1205.7) scale(1.0000,1)" fill="#000"><text x="0" y="0" font-size="17">0</text></g>
<g transform="translate(158.15,1145.5) scale(1.0000,1)" fill="#000"><path d="M763 0H583V1147C530 1096 466 1046 390 1000C314 954 255 925 223 912V1086C328 1135 420 1195 500 1266C580 1337 636 1404 668 1466H763Z" transform="translate(0,0) scale(0.008301,-0.008301)"/></g>
<g transform="translate(158.15,1085.3) scale(1.0000,1)" fill="#000"><text x="0" y="0" font-size="17">2</text></g>
<g transform="translate(158.15,1025.1) scale(1.0000,1)" fill="#000"><text x="0" y="0" font-size="17">3</text></g>
<g transform="translate(184.47,1220.6) scale(1.0000,1)" fill="#000"><path d="M763 0H583V1147C530 1096 466 1046 390 1000C314 954 255 925 223 912V1086C328 1135 420 1195 500 1266C580 1337 636 1404 668 1466H763Z" transform="translate(0,0) scale(0.008301,-0.008301)"/></g>
<g transform="translate(248.22,1220.6) scale(1.0000,1)" fill="#000"><text x="0" y="0" font-size="17">2</text></g>
<g transform="translate(311.97,1220.6) scale(1.0000,1)" fill="#000"><text x="0" y="0" font-size="17">3</text></g>
<g transform="translate(375.72,1220.6) scale(1.0000,1)" fill="#000"><text x="0" y="0" font-size="17">4</text></g>
<text transform="translate(151.4,1109.1) rotate(-90)" font-size="20" text-anchor="middle" textLength="136.5" lengthAdjust="spacingAndGlyphs">Capacity (mAh)</text>
<text x="286.6" y="1237.2" font-size="19.4" text-anchor="middle" font-weight="normal" textLength="120" lengthAdjust="spacingAndGlyphs">Cycle number</text>
</svg>
</body></html>
